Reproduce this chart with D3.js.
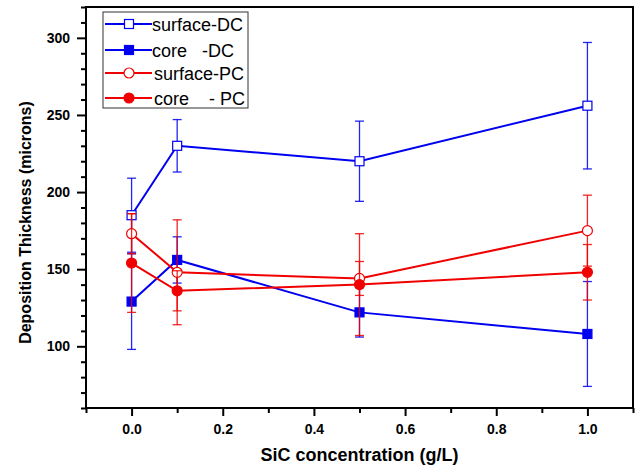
<!DOCTYPE html>
<html>
<head>
<meta charset="utf-8">
<script src="https://cdn.jsdelivr.net/npm/d3@7"></script>
<style>
  html, body { margin: 0; padding: 0; background: #fff; }
  svg { display: block; font-family: "Liberation Sans", Arial, sans-serif; }
</style>
</head>
<body>
<svg id="chart" width="640" height="466"></svg>
<script>
// SiC concentration (g/L)
const concentration = [0, 0.1, 0.5, 1.0];

// Deposition thickness (microns) and error half-widths
const surfaceDC    = [185, 230, 220, 256];
const surfaceDCErr = [24, 17, 26, 41];
const coreDC       = [129, 156, 122, 108];
const coreDCErr    = [31, 15, 16, 34];
const surfacePC    = [173, 148, 144, 175];
const surfacePCErr = [13, 34, 11, 23];
const corePC       = [154, 136, 140, 148];
const corePCErr    = [32, 13, 33, 18];

const seriesNames = ["surface-DC", "core   -DC", "surface-PC", "core    - PC"];

const xMajorTicks = [0.0, 0.2, 0.4, 0.6, 0.8, 1.0];
const xMinorTicks = [-0.1, 0.1, 0.3, 0.5, 0.7, 0.9, 1.1];
const yMajorTicks = [100, 150, 200, 250, 300];
const yMinorTicks = [60, 70, 80, 90, 110, 120, 130, 140, 160, 170, 180, 190,
                     210, 220, 230, 240, 260, 270, 280, 290, 310, 320];

const BLUE = "#0000f0";
const RED = "#f00000";

const series = [
  { name: seriesNames[0], values: surfaceDC, err: surfaceDCErr, color: BLUE, shape: "square", filled: false },
  { name: seriesNames[1], values: coreDC,    err: coreDCErr,    color: BLUE, shape: "square", filled: true },
  { name: seriesNames[2], values: surfacePC, err: surfacePCErr, color: RED,  shape: "circle", filled: false },
  { name: seriesNames[3], values: corePC,    err: corePCErr,    color: RED,  shape: "circle", filled: true }
];

const svg = d3.select("#chart");
const W = 640, H = 466;
const margin = { left: 86, right: 7, top: 7, bottom: 58 };
const plotW = W - margin.left - margin.right;
const plotH = H - margin.top - margin.bottom;

const x = d3.scaleLinear().domain([-0.1, 1.1]).range([0, plotW]);
const y = d3.scaleLinear().domain([60, 320]).range([plotH, 0]);

const g = svg.append("g").attr("transform", `translate(${margin.left},${margin.top})`);

// frame
g.append("rect")
  .attr("x", 0).attr("y", 0).attr("width", plotW).attr("height", plotH)
  .attr("fill", "none").attr("stroke", "#000").attr("stroke-width", 2);

function styleAxis(sel) {
  sel.select(".domain").remove();
  sel.selectAll(".tick line").attr("stroke", "#000").attr("stroke-width", 2);
  sel.selectAll(".tick text")
    .attr("fill", "#000")
    .style("font-size", "14px")
    .style("font-weight", "bold");
}

// x axis: minor then major ticks
g.append("g").attr("transform", `translate(0,${plotH})`)
  .call(d3.axisBottom(x).tickValues(xMinorTicks).tickSize(5).tickFormat(""))
  .call(styleAxis);
g.append("g").attr("transform", `translate(0,${plotH})`)
  .call(d3.axisBottom(x).tickValues(xMajorTicks).tickSize(8).tickPadding(8).tickFormat(d3.format(".1f")))
  .call(styleAxis);

// y axis
g.append("g")
  .call(d3.axisLeft(y).tickValues(yMinorTicks).tickSize(5).tickFormat(""))
  .call(styleAxis);
g.append("g")
  .call(d3.axisLeft(y).tickValues(yMajorTicks).tickSize(9).tickPadding(7).tickFormat(d3.format("d")))
  .call(styleAxis);

// axis titles
svg.append("text")
  .attr("x", margin.left + plotW / 2)
  .attr("y", 461)
  .attr("text-anchor", "middle")
  .style("font-size", "18px").style("font-weight", "bold")
  .text("SiC concentration (g/L)");

svg.append("text")
  .attr("transform", `translate(31,${margin.top + plotH / 2 + 15}) rotate(-90)`)
  .attr("text-anchor", "middle")
  .style("font-size", "16px").style("font-weight", "bold")
  .text("Deposition Thickness (microns)");

const line = d3.line().x((d, i) => x(concentration[i])).y(d => y(d));
const CAP = 4.5;

function drawMarker(sel, s, cx, cy) {
  if (s.shape === "square") {
    sel.append("rect")
      .attr("x", cx - 4.5).attr("y", cy - 4.5).attr("width", 9).attr("height", 9)
      .attr("fill", s.filled ? s.color : "#fff")
      .attr("stroke", s.color).attr("stroke-width", 1.2);
  } else {
    sel.append("circle")
      .attr("cx", cx).attr("cy", cy).attr("r", 5)
      .attr("fill", s.filled ? s.color : "#fff")
      .attr("stroke", s.color).attr("stroke-width", 1.2);
  }
}

series.forEach(s => {
  const sg = g.append("g");
  // error bars
  s.values.forEach((v, i) => {
    const cx = x(concentration[i]);
    const lo = y(v - s.err[i]), hi = y(v + s.err[i]);
    sg.append("line").attr("x1", cx).attr("x2", cx).attr("y1", lo).attr("y2", hi)
      .attr("stroke", s.color).attr("stroke-width", 1.3).attr("opacity", 0.85);
    [lo, hi].forEach(yy => {
      sg.append("line").attr("x1", cx - CAP).attr("x2", cx + CAP).attr("y1", yy).attr("y2", yy)
        .attr("stroke", s.color).attr("stroke-width", 1.3).attr("opacity", 0.85);
    });
  });
  // connecting line
  sg.append("path").datum(s.values)
    .attr("d", line).attr("fill", "none")
    .attr("stroke", s.color).attr("stroke-width", 2);
  // markers
  s.values.forEach((v, i) => drawMarker(sg, s, x(concentration[i]), y(v)));
});

// legend
const legend = svg.append("g").attr("transform", "translate(103,12)");
legend.append("rect")
  .attr("x", 0).attr("y", 0).attr("width", 145).attr("height", 96)
  .attr("fill", "#fff").attr("stroke", "#333").attr("stroke-width", 1);

const rowY = [12, 38, 61, 86];
series.forEach((s, i) => {
  const ry = rowY[i];
  legend.append("line").attr("x1", 2).attr("x2", 49).attr("y1", ry).attr("y2", ry)
    .attr("stroke", s.color).attr("stroke-width", 2);
  drawMarker(legend, s, 26, ry);
  legend.append("text")
    .attr("x", i < 2 ? 49 : 51).attr("y", ry + 6.5)
    .style("font-size", "18px")
    .style("white-space", "pre")
    .attr("fill", "#000")
    .text(s.name);
});
</script>
</body>
</html>
